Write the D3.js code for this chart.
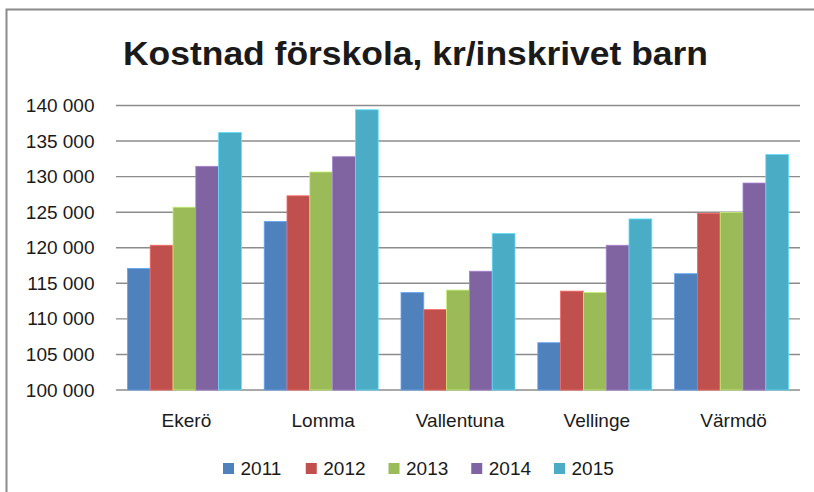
<!DOCTYPE html>
<html>
<head>
<meta charset="utf-8">
<script src="https://cdn.jsdelivr.net/npm/d3@7"></script>
<style>
  html, body { margin: 0; padding: 0; background: #fff; }
  svg { display: block; }
  text { font-family: "Liberation Sans", Arial, sans-serif; fill: #1a1a1a; }
</style>
</head>
<body>
<svg id="chart" width="814" height="492"></svg>
<script>
const title = "Kostnad förskola, kr/inskrivet barn";
const categories = ["Ekerö", "Lomma", "Vallentuna", "Vellinge", "Värmdö"];
const years = ["2011", "2012", "2013", "2014", "2015"];
const colors = ["#4F81BD", "#C0504D", "#9BBB59", "#8064A2", "#4BACC6"];
const values2011 = [117100, 123700, 113700, 106650, 116350];
const values2012 = [120350, 127300, 111300, 113900, 124850];
const values2013 = [125700, 130650, 114050, 113700, 124950];
const values2014 = [131450, 132800, 116700, 120350, 129100];
const values2015 = [136200, 139400, 122000, 124050, 133100];
const series = [values2011, values2012, values2013, values2014, values2015];
const yTicks = [100000, 105000, 110000, 115000, 120000, 125000, 130000, 135000, 140000];

const svg = d3.select("#chart");

// chart area border (left + top visible)
svg.append("rect")
  .attr("x", 6.5).attr("y", 9.5).attr("width", 900).attr("height", 600)
  .attr("fill", "#fff").attr("stroke", "#8a8a8a").attr("stroke-width", 2);

const x = d3.scaleBand().domain(categories).range([116, 800])
  .paddingInner(1 / 6).paddingOuter(1 / 12);
const xi = d3.scaleBand().domain(years).range([0, x.bandwidth()]);
const y = d3.scaleLinear().domain([100000, 140000]).range([390, 105.5]);

const locale = d3.formatLocale({ decimal: ",", thousands: "\u00a0", grouping: [3], currency: ["", " kr"] });
const fmt = locale.format(",d");

// gridlines
svg.append("g")
  .selectAll("line").data(yTicks).join("line")
  .attr("x1", 116).attr("x2", 800)
  .attr("y1", d => y(d)).attr("y2", d => y(d))
  .attr("stroke", "#8c8c8c").attr("stroke-width", 1.4);

// y axis labels
const yAxis = d3.axisLeft(y).tickValues(yTicks).tickFormat(fmt).tickSize(0).tickPadding(0);
const gy = svg.append("g").attr("transform", "translate(94.5,0)").call(yAxis);
gy.select(".domain").remove();
gy.selectAll("text").attr("font-size", 19).attr("fill", "#1a1a1a")
  .style("font-family", '"Liberation Sans", Arial, sans-serif');

// bars
const barData = [];
categories.forEach((c, ci) => {
  years.forEach((yr, si) => {
    barData.push({ cat: c, year: yr, value: series[si][ci], color: colors[si] });
  });
});
svg.append("g").selectAll("rect").data(barData).join("rect")
  .attr("x", d => x(d.cat) + xi(d.year))
  .attr("y", d => y(d.value))
  .attr("width", xi.bandwidth())
  .attr("height", d => y(100000) - y(d.value))
  .attr("fill", d => d.color)
  .attr("stroke", d => d3.color(d.color).brighter(0.7))
  .attr("stroke-width", 0.8);

// x axis labels
const xAxis = d3.axisBottom(x).tickSize(0).tickPadding(0);
const gx = svg.append("g").attr("transform", "translate(2,427)").call(xAxis);
gx.select(".domain").remove();
gx.selectAll("text").attr("font-size", 19).attr("fill", "#1a1a1a").attr("dy", 0)
  .style("font-family", '"Liberation Sans", Arial, sans-serif');

// title
svg.append("text")
  .attr("x", 123).attr("y", 64.5)
  .attr("font-size", 32.5).attr("font-weight", "bold")
  .attr("textLength", 585).attr("lengthAdjust", "spacingAndGlyphs")
  .attr("fill", "#000")
  .text(title);

// legend
const legend = svg.append("g").selectAll("g").data(years).join("g")
  .attr("transform", (d, i) => `translate(${223 + i * 82.75},0)`);
legend.append("rect")
  .attr("x", 0).attr("y", 463).attr("width", 11).attr("height", 11)
  .attr("fill", (d, i) => colors[i]);
legend.append("text")
  .attr("x", 17.5).attr("y", 475)
  .attr("font-size", 19)
  .text(d => d);
</script>
</body>
</html>
